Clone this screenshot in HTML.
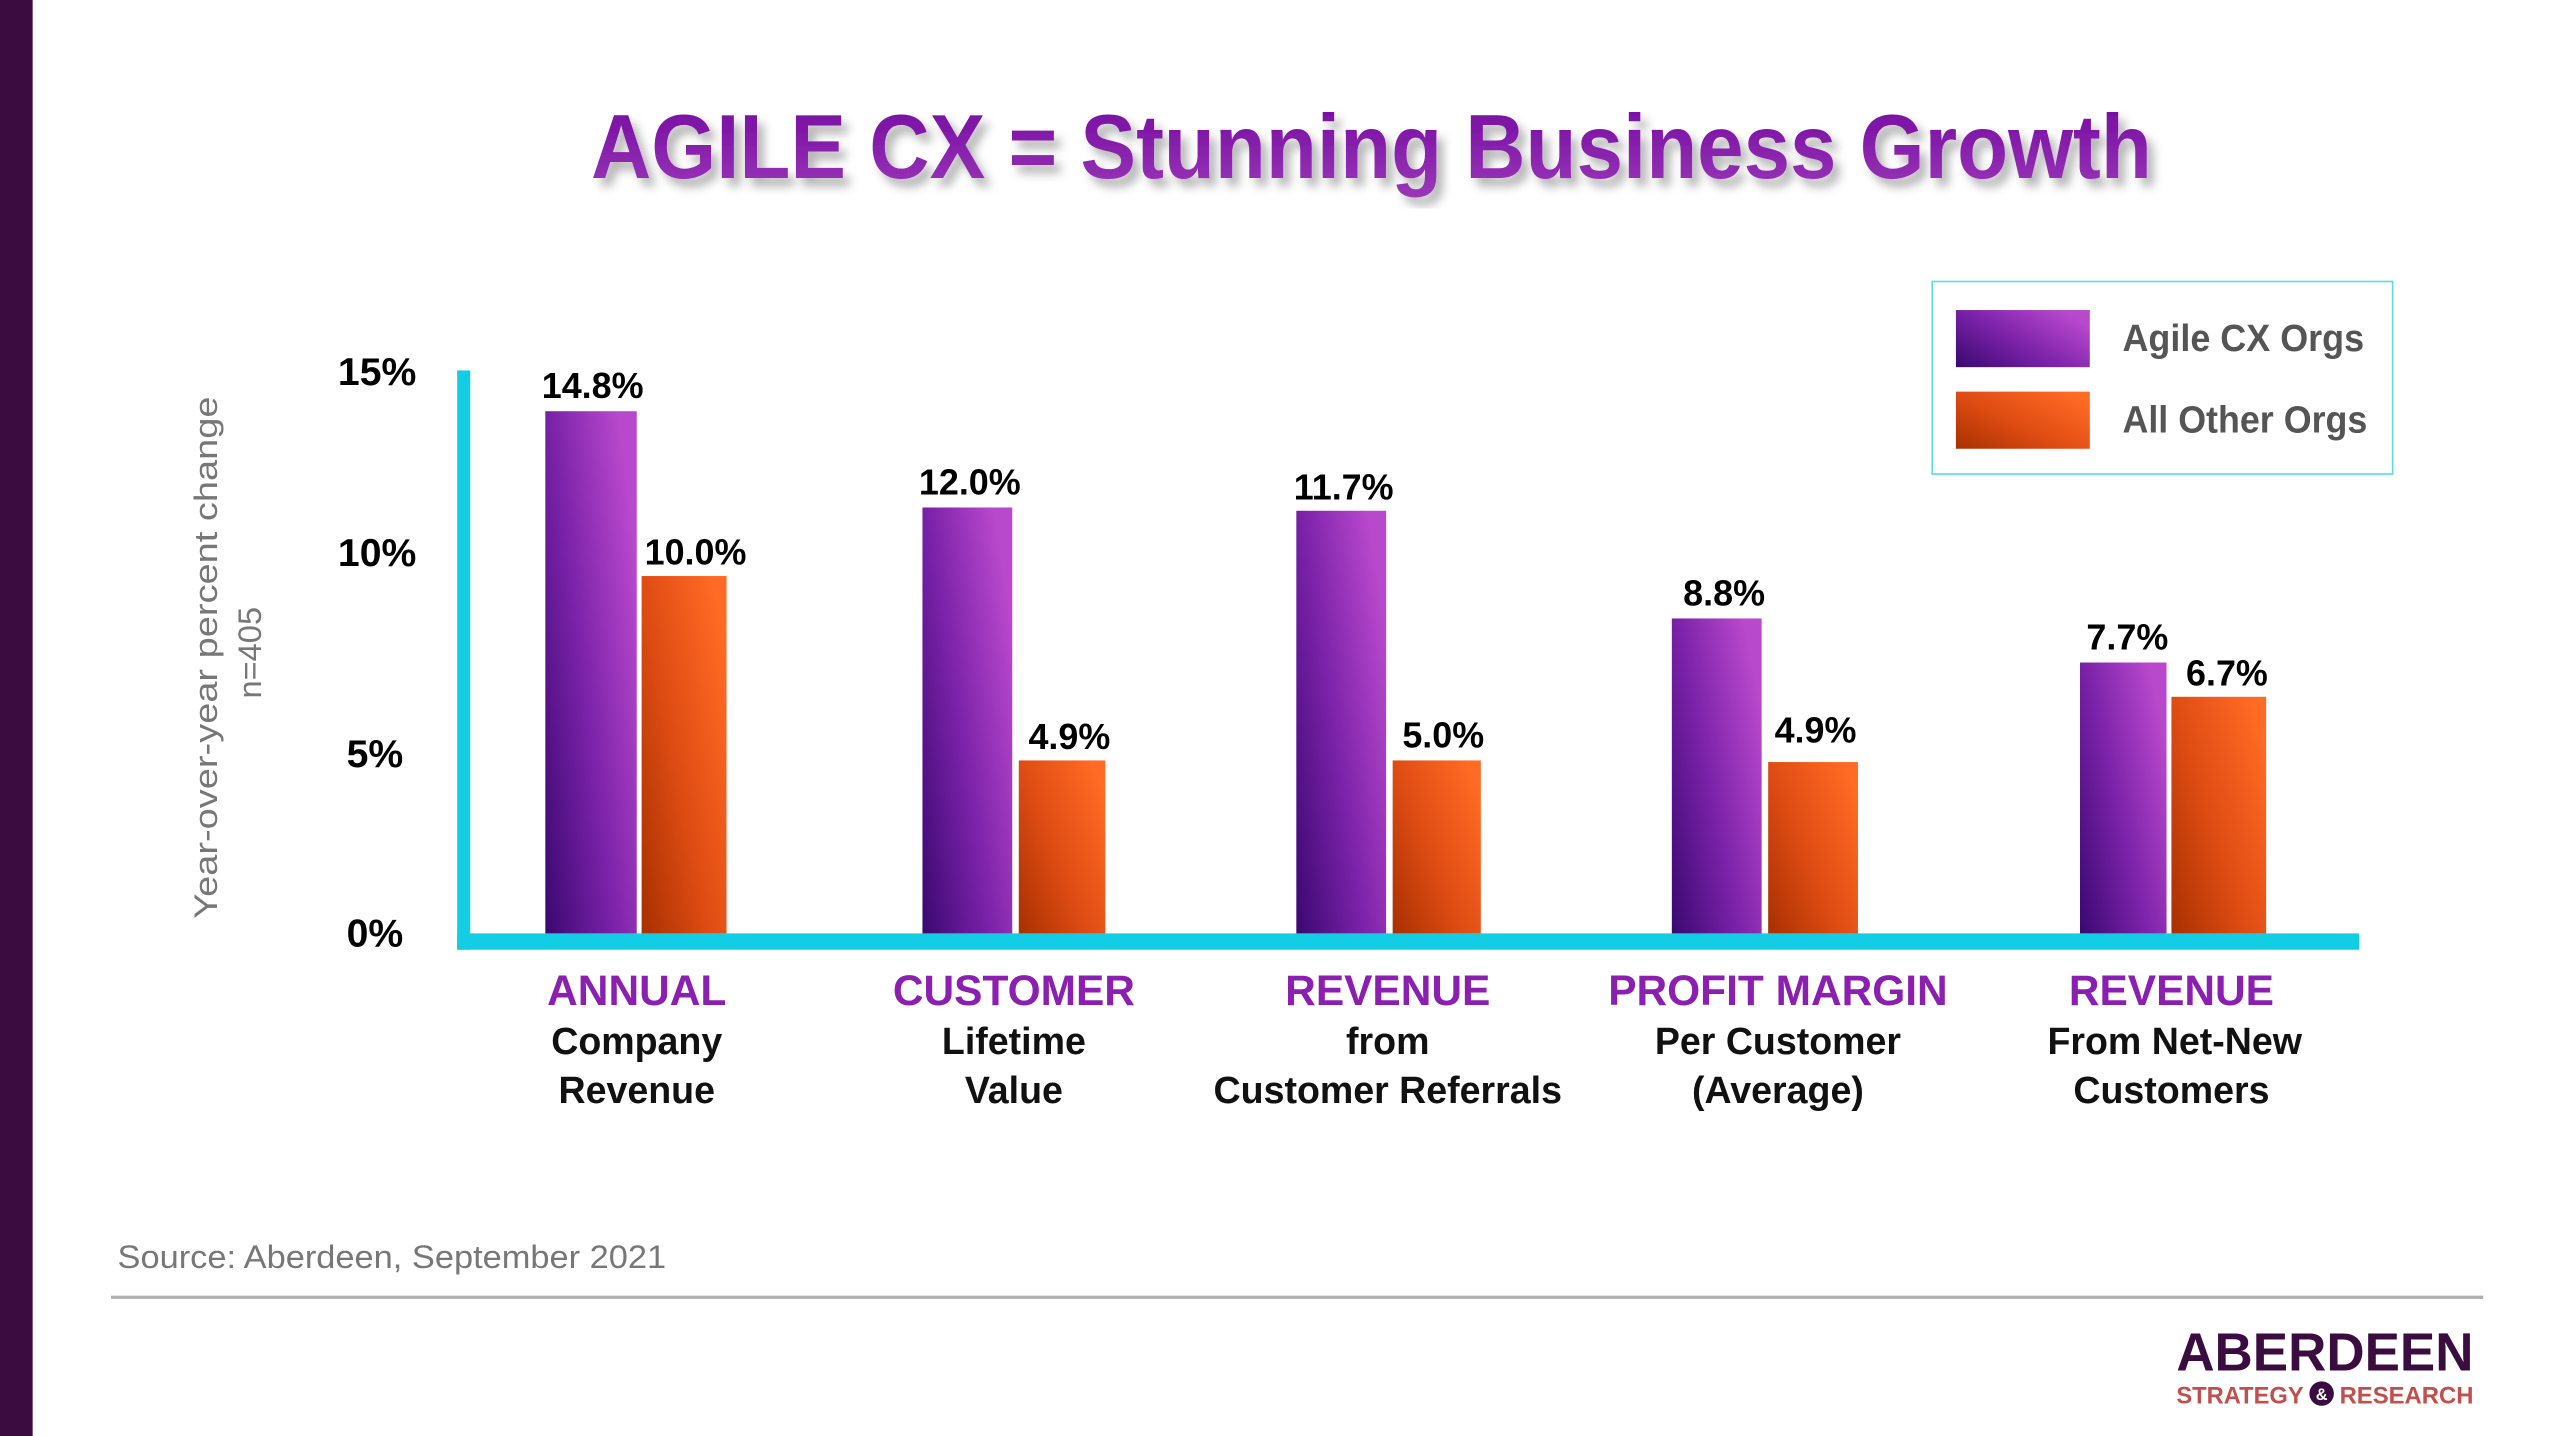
<!DOCTYPE html>
<html><head><meta charset="utf-8"><style>html,body{margin:0;padding:0;background:#fff}svg{display:block}</style></head>
<body>
<svg width="2560" height="1436" viewBox="0 0 1568 880" preserveAspectRatio="none" xmlns="http://www.w3.org/2000/svg" font-family="Liberation Sans, sans-serif">
<defs>
<linearGradient id="pg" x1="0" y1="1" x2="1" y2="0.3"><stop offset="0" stop-color="#3a0870"/><stop offset="0.5" stop-color="#7a22a8"/><stop offset="1" stop-color="#b848cc"/></linearGradient>
<linearGradient id="og" x1="0" y1="1" x2="1" y2="0.2"><stop offset="0" stop-color="#a83000"/><stop offset="0.5" stop-color="#e04d14"/><stop offset="1" stop-color="#ff6a24"/></linearGradient>
<linearGradient id="tg" x1="0" y1="0" x2="0" y2="1"><stop offset="0" stop-color="#7408a0"/><stop offset="1" stop-color="#9a38b8"/></linearGradient>
<filter id="sh"><feDropShadow dx="4" dy="5" stdDeviation="3" flood-color="#000" flood-opacity="0.3"/></filter>
</defs>
<rect x="0" y="0" width="20" height="880" fill="#3a0c40"/>
<text x="840" y="109" text-anchor="middle" font-size="56" font-weight="bold" fill="url(#tg)" textLength="956" lengthAdjust="spacingAndGlyphs" filter="url(#sh)">AGILE CX = Stunning Business Growth</text>

<rect x="280" y="227" width="8" height="355" fill="#12cde3"/>
<rect x="280" y="572" width="1165" height="10" fill="#12cde3"/>

<g font-weight="bold" font-size="24" fill="#000" text-anchor="end">
<text x="255" y="236">15%</text><text x="255" y="347">10%</text><text x="247" y="470">5%</text><text x="247" y="580">0%</text>
</g>
<text transform="translate(133,403) rotate(-90)" text-anchor="middle" font-size="20" fill="#777" textLength="320" lengthAdjust="spacingAndGlyphs">Year-over-year percent change</text>
<text transform="translate(160,400) rotate(-90)" text-anchor="middle" font-size="20" fill="#777">n=405</text>

<rect x="334" y="252" width="56" height="320" fill="url(#pg)"/><rect x="393" y="353" width="52" height="219" fill="url(#og)"/>
<rect x="565" y="311" width="55" height="261" fill="url(#pg)"/><rect x="624" y="466" width="53" height="106" fill="url(#og)"/>
<rect x="794" y="313" width="55" height="259" fill="url(#pg)"/><rect x="853" y="466" width="54" height="106" fill="url(#og)"/>
<rect x="1024" y="379" width="55" height="193" fill="url(#pg)"/><rect x="1083" y="467" width="55" height="105" fill="url(#og)"/>
<rect x="1274" y="406" width="53" height="166" fill="url(#pg)"/><rect x="1330" y="427" width="58" height="145" fill="url(#og)"/>

<g font-weight="bold" font-size="22" fill="#000" text-anchor="middle">
<text x="363" y="244">14.8%</text><text x="426" y="346">10.0%</text>
<text x="594" y="303">12.0%</text><text x="655" y="459">4.9%</text>
<text x="823" y="306">11.7%</text><text x="884" y="458">5.0%</text>
<text x="1056" y="371">8.8%</text><text x="1112" y="455">4.9%</text>
<text x="1303" y="398">7.7%</text><text x="1364" y="420">6.7%</text>
</g>

<g text-anchor="middle" font-weight="bold">
<g font-size="26" fill="#8a1fb0">
<text x="390" y="616">ANNUAL</text><text x="621" y="616">CUSTOMER</text><text x="850" y="616">REVENUE</text><text x="1089" y="616">PROFIT MARGIN</text><text x="1330" y="616">REVENUE</text>
</g>
<g font-size="23" fill="#111">
<text x="390" y="646">Company</text><text x="390" y="676">Revenue</text>
<text x="621" y="646">Lifetime</text><text x="621" y="676">Value</text>
<text x="850" y="646">from</text><text x="850" y="676">Customer Referrals</text>
<text x="1089" y="646">Per Customer</text><text x="1089" y="676">(Average)</text>
<text x="1332" y="646">From Net-New</text><text x="1330" y="676">Customers</text>
</g>
</g>

<rect x="1183.5" y="172.5" width="282" height="118" fill="#fff" stroke="#5fd8e8" stroke-width="1"/>
<rect x="1198" y="190" width="82" height="35" fill="url(#pg)"/>
<rect x="1198" y="240" width="82" height="35" fill="url(#og)"/>
<g font-weight="bold" font-size="23" fill="#555">
<text x="1300" y="215" textLength="148" lengthAdjust="spacingAndGlyphs">Agile CX Orgs</text>
<text x="1300" y="265" textLength="150" lengthAdjust="spacingAndGlyphs">All Other Orgs</text>
</g>

<text x="72" y="777" font-size="20" fill="#777" textLength="336" lengthAdjust="spacingAndGlyphs">Source: Aberdeen, September 2021</text>
<rect x="68" y="794" width="1453" height="2" fill="#b0b0b0"/>

<text x="1515" y="840" text-anchor="end" font-size="33" font-weight="bold" fill="#3a0c40" textLength="182" lengthAdjust="spacingAndGlyphs">ABERDEEN</text>
<text x="1333" y="860" font-size="15" font-weight="bold" fill="#c0504d" textLength="78" lengthAdjust="spacingAndGlyphs">STRATEGY</text>
<circle cx="1422" cy="854" r="7.5" fill="#3a0c40"/>
<text x="1422" y="858" text-anchor="middle" font-size="10" font-weight="bold" fill="#fff">&amp;</text>
<text x="1433" y="860" font-size="15" font-weight="bold" fill="#c0504d" textLength="82" lengthAdjust="spacingAndGlyphs">RESEARCH</text>
</svg>
</body></html>
